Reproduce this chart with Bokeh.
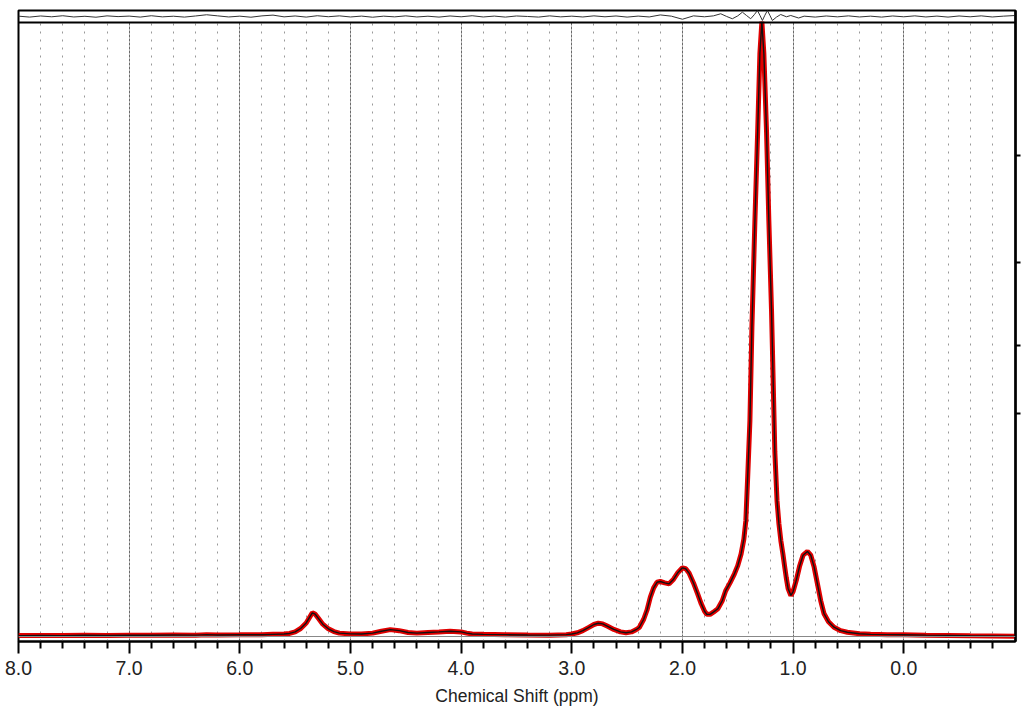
import numpy as np
from bokeh.plotting import figure
from bokeh.models import Range1d, FixedTicker, LinearAxis, Span, NumeralTickFormatter
from bokeh.embed import file_html
from bokeh.resources import INLINE

# ---- data ----
ppm = [8.00, 7.80, 7.60, 7.40, 7.20, 7.00, 6.80, 6.60, 6.40, 6.30, 6.20, 6.00, 5.90, 5.80,
       5.70, 5.60, 5.55, 5.50, 5.45, 5.40, 5.37, 5.345, 5.32, 5.29, 5.25, 5.20, 5.15, 5.10,
       5.00, 4.90, 4.80, 4.72, 4.64, 4.56, 4.48, 4.40, 4.30, 4.20, 4.10, 4.00, 3.95, 3.90,
       3.80, 3.60, 3.40, 3.20, 3.05, 3.00, 2.95, 2.90, 2.85, 2.80, 2.76, 2.72, 2.68, 2.62,
       2.56, 2.51, 2.46, 2.42, 2.39, 2.35, 2.32, 2.29, 2.26, 2.23, 2.20, 2.16, 2.12, 2.08,
       2.04, 2.00, 1.97, 1.94, 1.90, 1.86, 1.83, 1.80, 1.78, 1.75, 1.72, 1.68, 1.64, 1.61,
       1.57, 1.53, 1.50, 1.47, 1.445, 1.427, 1.41, 1.39, 1.372, 1.345, 1.32, 1.30, 1.282,
       1.264, 1.24, 1.219, 1.195, 1.178, 1.165, 1.145, 1.128, 1.11, 1.092, 1.075, 1.062, 1.045,
       1.02, 1.00, 0.97, 0.94, 0.91, 0.87, 0.84, 0.81, 0.78, 0.75, 0.72, 0.68, 0.63, 0.57,
       0.51, 0.40, 0.30, 0.15, 0.00, -0.20, -0.40, -0.60, -0.80, -1.01]
intensity = [0.15, 0.18, 0.15, 0.20, 0.17, 0.22, 0.20, 0.25, 0.22, 0.30, 0.25, 0.28, 0.30, 0.28,
             0.35, 0.40, 0.50, 0.75, 1.30, 2.20, 3.10, 3.85, 3.65, 2.95, 2.00, 1.25, 0.80, 0.55,
             0.42, 0.40, 0.55, 0.85, 1.12, 0.95, 0.65, 0.55, 0.65, 0.75, 0.86, 0.75, 0.55, 0.40,
             0.35, 0.30, 0.25, 0.22, 0.30, 0.40, 0.60, 0.95, 1.45, 1.95, 2.16, 2.05, 1.70, 1.15,
             0.75, 0.60, 0.75, 1.10, 1.46, 2.80, 4.30, 6.38, 7.90, 8.80, 8.93, 8.70, 8.55, 9.30,
             10.40, 11.15, 11.00, 10.30, 8.70, 6.80, 5.31, 4.10, 3.60, 3.60, 3.95, 4.50, 5.80, 7.40,
             8.70, 10.18, 11.50, 13.40, 15.80, 18.80, 26.00, 35.10, 50.20, 67.50, 82.00, 94.60, 99.80,
             94.60, 82.00, 67.50, 53.00, 40.00, 30.00, 22.00, 18.30, 15.50, 13.40, 11.20, 9.58, 7.80,
             6.66, 7.30, 9.20, 11.50, 13.20, 13.80, 13.20, 11.30, 8.56, 5.80, 3.69, 2.40, 1.51, 0.95,
             0.70, 0.45, 0.35, 0.30, 0.28, 0.22, 0.18, 0.12, 0.10, 0.05]

res_ppm = [8.0, 7.9, 7.8, 7.7, 7.6, 7.5, 7.4, 7.3, 7.2, 7.1, 7.0, 6.9, 6.8, 6.7, 6.6, 6.5, 6.4,
           6.3, 6.2, 6.1, 6.0, 5.9, 5.8, 5.7, 5.6, 5.5, 5.4, 5.3, 5.2, 5.1, 5.0, 4.9, 4.8, 4.7,
           4.6, 4.5, 4.4, 4.3, 4.2, 4.1, 4.0, 3.9, 3.8, 3.7, 3.6, 3.5, 3.4, 3.3, 3.2, 3.1, 3.0,
           2.9, 2.8, 2.7, 2.6, 2.5, 2.4, 2.3, 2.2, 2.1, 2.0, 1.9, 1.8, 1.72, 1.654, 1.6, 1.549,
           1.5, 1.458, 1.42, 1.383, 1.35, 1.322, 1.30, 1.277, 1.255, 1.232, 1.21, 1.187, 1.15,
           1.112, 1.06, 1.021, 0.95, 0.9, 0.8, 0.7, 0.6, 0.5, 0.4, 0.3, 0.2, 0.1, 0.0, -0.1,
           -0.2, -0.3, -0.4, -0.5, -0.6, -0.7, -0.8, -0.9, -1.0]
residual = [0.05, -0.10, 0.08, -0.05, 0.12, -0.08, 0.03, -0.12, 0.10, -0.02, 0.06, -0.10, 0.12,
            -0.06, 0.04, -0.10, 0.08, 0.28, 0.10, -0.08, 0.05, -0.12, 0.10, 0.22, -0.06, 0.08,
            -0.10, 0.12, -0.04, 0.10, -0.08, 0.06, -0.12, 0.05, -0.06, 0.10, -0.08, 0.04, -0.10,
            0.08, -0.05, 0.12, -0.08, 0.06, -0.10, 0.08, 0.00, -0.10, 0.10, -0.06, 0.05, -0.08,
            0.10, -0.05, 0.08, -0.10, 0.06, -0.08, 0.25, 0.05, -0.45, 0.10, -0.05, 0.10, 0.44,
            0.00, -0.37, 0.10, 0.70, 0.15, -0.37, 0.30, 0.97, 0.20, -0.65, 0.20, 0.97, 0.20,
            -0.65, -0.10, 0.32, -0.05, 0.16, -0.25, 0.05, -0.10, 0.08, -0.06, 0.10, -0.08, 0.05,
            -0.10, 0.08, -0.05, 0.10, -0.08, 0.06, -0.10, 0.08, -0.05, 0.10, -0.08, 0.05, 0.15]

major_ticks = [8.0, 7.0, 6.0, 5.0, 4.0, 3.0, 2.0, 1.0, 0.0]
right_ticks = [78.1, 60.7, 47.2, 36.2]

# ---- style constants ----
RES_OFFSET = 100.65
STRIP_BOTTOM = 99.68
FONT = "Liberation Sans"

minor_ticks = [round(v, 1) for v in np.arange(8.0, -1.05, -0.2)
               if abs(round(v, 1) - round(v)) > 1e-6]

p = figure(width=1030, height=708, output_backend="svg", toolbar_location=None,
           x_range=Range1d(8.0, -1.01), y_range=Range1d(-0.81, 101.62),
           min_border_left=18, min_border_right=15, min_border_top=10, min_border_bottom=67)
p.title.visible = False
p.background_fill_color = "white"
p.border_fill_color = "white"
p.outline_line_color = "black"
p.outline_line_width = 2

# left axis hidden
p.yaxis.visible = False
p.ygrid.grid_line_color = None

# bottom axis
xa = p.xaxis[0]
xa.ticker = FixedTicker(ticks=major_ticks, minor_ticks=minor_ticks)
xa.formatter = NumeralTickFormatter(format="0.0")
xa.axis_label = "Chemical Shift (ppm)"
xa.axis_label_text_font = FONT
xa.axis_label_text_font_size = "17.5px"
xa.axis_label_text_font_style = "normal"
xa.axis_label_text_color = "#222222"
xa.axis_label_standoff = 8
xa.major_label_text_font = FONT
xa.major_label_text_font_size = "19.5px"
xa.major_label_text_color = "#222222"
xa.major_label_standoff = 7
xa.axis_line_width = 2
xa.axis_line_color = "black"
xa.major_tick_line_width = 2
xa.major_tick_line_color = "black"
xa.major_tick_out = 12
xa.major_tick_in = 0
xa.minor_tick_line_width = 2
xa.minor_tick_line_color = "black"
xa.minor_tick_out = 7
xa.minor_tick_in = 0

# grids
g = p.xgrid[0]
g.grid_line_color = "#6a6a6a"
g.grid_line_width = 1
g.grid_line_dash = "3 1"
g.minor_grid_line_color = "#999999"
g.minor_grid_line_width = 1
g.minor_grid_line_dash = "2 6"
try:
    g.cross_bounds = (-0.81, STRIP_BOTTOM)
except Exception:
    pass

# right axis with unlabeled ticks
ra = LinearAxis(ticker=FixedTicker(ticks=right_ticks, minor_ticks=[]))
ra.major_label_overrides = {t: "" for t in right_ticks}
ra.major_label_standoff = 0
ra.major_tick_out = 5
ra.major_tick_in = 0
ra.major_tick_line_width = 2
ra.major_tick_line_color = "black"
ra.minor_tick_line_color = None
ra.axis_line_width = 2.5
ra.axis_line_color = "black"
p.add_layout(ra, "right")

# baseline
p.add_layout(Span(location=0, dimension="width", line_color="#888888", line_width=1))

# spectrum (fit in red, experimental in black)
p.line(ppm, intensity, line_color="#e00000", line_width=5)
p.line(ppm, intensity, line_color="#111111", line_width=1.4)

# residual strip
p.line(res_ppm, [r + RES_OFFSET for r in residual], line_color="#333333", line_width=1)
p.add_layout(Span(location=STRIP_BOTTOM, dimension="width", line_color="black", line_width=2))

open("out.html", "w").write(file_html(p, INLINE))
